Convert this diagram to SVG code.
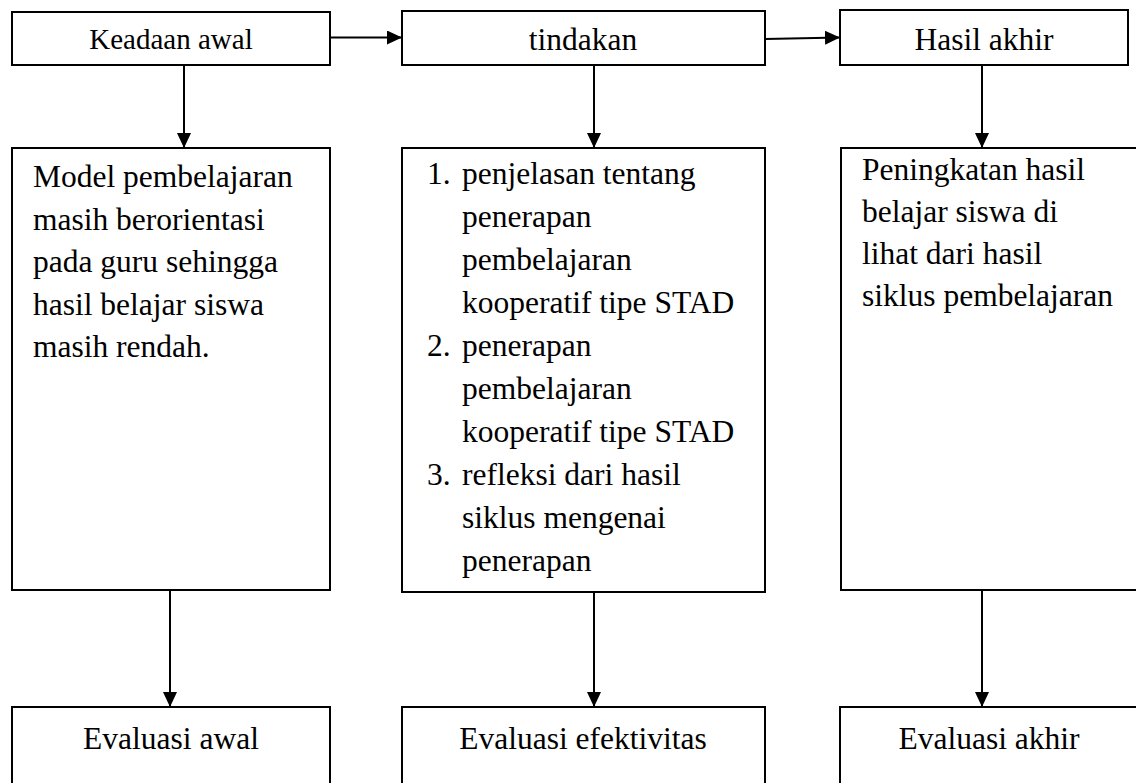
<svg xmlns="http://www.w3.org/2000/svg" width="1136" height="783" viewBox="0 0 1136 783">
<style>
  .box { fill: #ffffff; stroke: #000000; stroke-width: 2; }
  .conn { stroke: #000000; stroke-width: 2; fill: none; }
  text { font-family: "Liberation Serif", "Times New Roman", serif; font-size: 31.5px; fill: #000000; }
  .c { text-anchor: middle; }
</style>
<defs>
  <marker id="arrow" markerUnits="userSpaceOnUse" markerWidth="16" markerHeight="14" refX="15" refY="7" orient="auto">
    <path d="M0,0 L15,7 L0,14 z" fill="#000000"/>
  </marker>
</defs>
<rect width="1136" height="783" fill="#ffffff"/>

<g id="connectors">
  <line class="conn" x1="330" y1="37.5" x2="402" y2="37.5" marker-end="url(#arrow)"/>
  <line class="conn" x1="765" y1="39" x2="840" y2="37.5" marker-end="url(#arrow)"/>
  <line class="conn" x1="184" y1="65" x2="184" y2="148" marker-end="url(#arrow)"/>
  <line class="conn" x1="594" y1="65" x2="594" y2="148" marker-end="url(#arrow)"/>
  <line class="conn" x1="982" y1="65" x2="982" y2="148" marker-end="url(#arrow)"/>
  <line class="conn" x1="170" y1="590" x2="170" y2="707" marker-end="url(#arrow)"/>
  <line class="conn" x1="594" y1="592" x2="594" y2="707" marker-end="url(#arrow)"/>
  <line class="conn" x1="982" y1="590" x2="982" y2="707" marker-end="url(#arrow)"/>
</g>

<g id="keadaan-awal">
  <rect class="box" x="12" y="12" width="318" height="53"/>
  <text class="c" x="171" y="49" style="font-size:29px">Keadaan awal</text>
</g>
<g id="tindakan">
  <rect class="box" x="402" y="11" width="363" height="54"/>
  <text class="c" x="583" y="50">tindakan</text>
</g>
<g id="hasil-akhir">
  <rect class="box" x="840" y="10" width="288" height="55"/>
  <text class="c" x="984" y="49.5">Hasil akhir</text>
</g>

<g id="kondisi-awal">
  <rect class="box" x="12" y="148" width="318" height="442"/>
  <text x="33" y="187">Model pembelajaran</text>
  <text x="33" y="229.5">masih berorientasi</text>
  <text x="33" y="272">pada guru sehingga</text>
  <text x="33" y="314.5">hasil belajar siswa</text>
  <text x="33" y="357">masih rendah.</text>
</g>
<g id="langkah-tindakan">
  <rect class="box" x="402" y="148" width="363" height="444"/>
  <text x="427" y="184">1.</text>
  <text x="462" y="184">penjelasan tentang</text>
  <text x="462" y="227">penerapan</text>
  <text x="462" y="270">pembelajaran</text>
  <text x="462" y="313">kooperatif tipe STAD</text>
  <text x="427" y="356">2.</text>
  <text x="462" y="356">penerapan</text>
  <text x="462" y="399">pembelajaran</text>
  <text x="462" y="442">kooperatif tipe STAD</text>
  <text x="427" y="485">3.</text>
  <text x="462" y="485">refleksi dari hasil</text>
  <text x="462" y="528">siklus mengenai</text>
  <text x="462" y="571">penerapan</text>
</g>
<g id="peningkatan">
  <rect class="box" x="841" y="148" width="300" height="442"/>
  <text x="862" y="180">Peningkatan hasil</text>
  <text x="862" y="222">belajar siswa di</text>
  <text x="862" y="264">lihat dari hasil</text>
  <text x="862" y="306">siklus pembelajaran</text>
</g>

<g id="evaluasi-awal">
  <rect class="box" x="12" y="707" width="318" height="100"/>
  <text class="c" x="171" y="749">Evaluasi awal</text>
</g>
<g id="evaluasi-efektivitas">
  <rect class="box" x="402" y="707" width="363" height="100"/>
  <text class="c" x="583" y="749">Evaluasi efektivitas</text>
</g>
<g id="evaluasi-akhir">
  <rect class="box" x="840" y="707" width="300" height="100"/>
  <text class="c" x="989" y="749">Evaluasi akhir</text>
</g>
</svg>
